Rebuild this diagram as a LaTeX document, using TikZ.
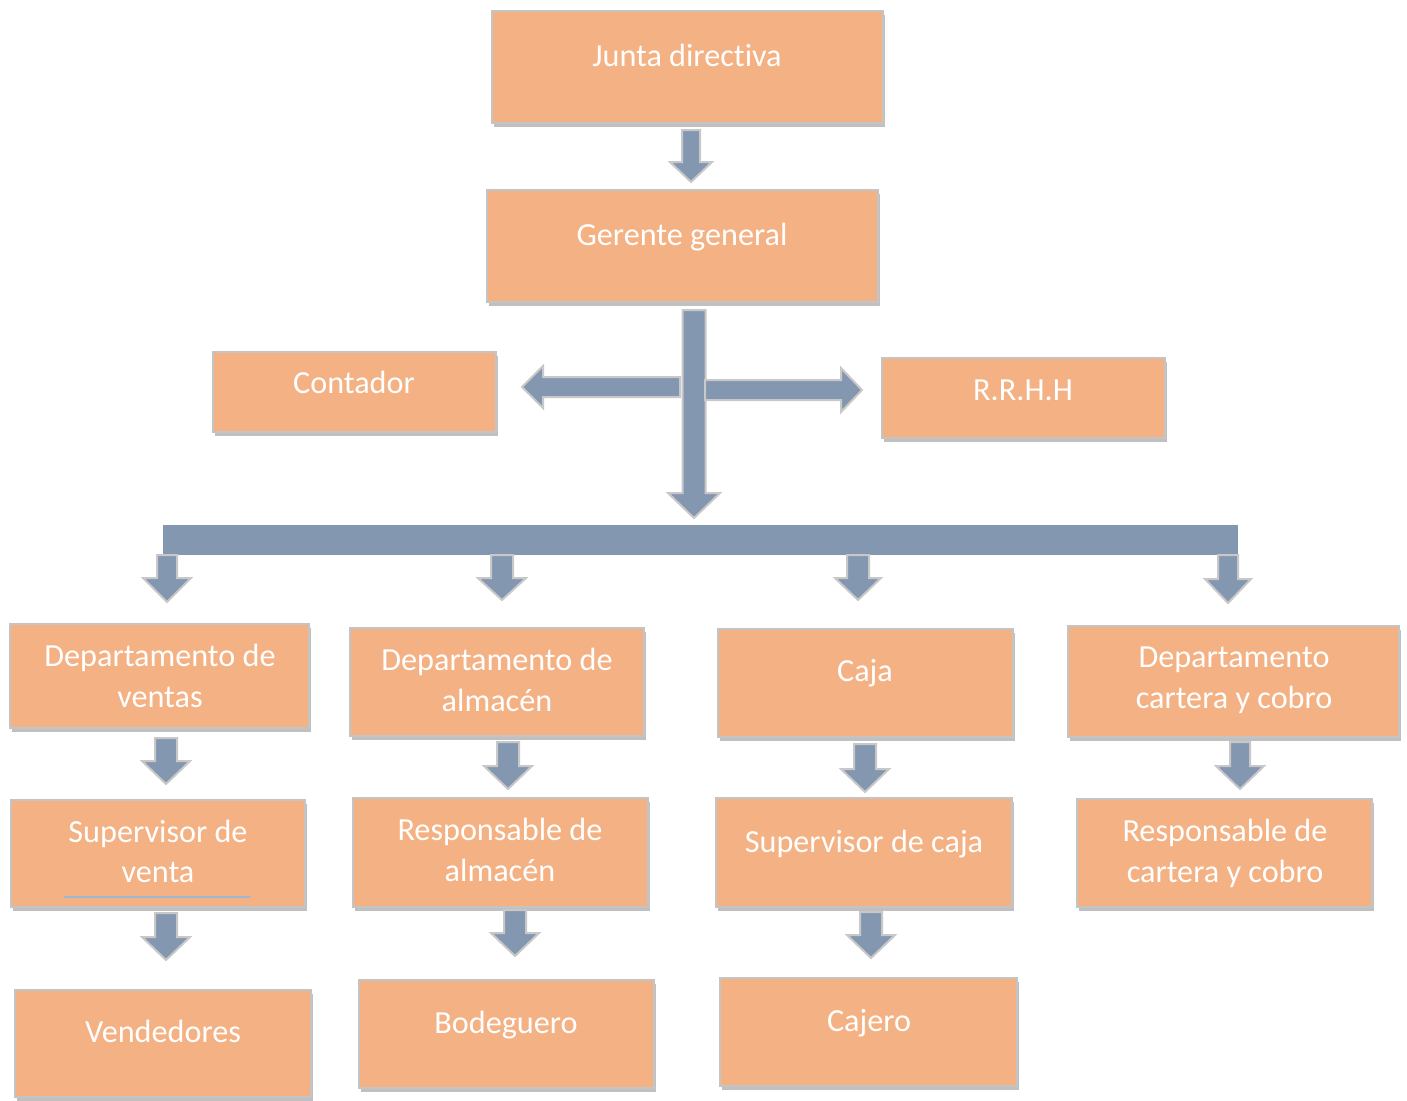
\documentclass[tikz,border=0pt]{standalone}
\usepackage{fontspec}
\setmainfont[Ligatures=NoCommon]{Carlito}
\usetikzlibrary{shadows,fit}
\definecolor{boxfill}{HTML}{F4B183}
\definecolor{boxline}{HTML}{C4C4C4}
\definecolor{arrfill}{HTML}{8497B0}
\definecolor{arrline}{HTML}{C8C8C8}
\definecolor{uline}{HTML}{9BB7D4}
\tikzset{
  orgbox/.style={draw=boxline, line width=1pt, fill=boxfill, inner sep=0pt,
    drop shadow={shadow xshift=1pt, shadow yshift=-2pt, fill=black!55, opacity=0.45}},
  lbl/.style={text=white, inner sep=0pt, anchor=base, font=\fontsize{16.1}{20.5}\selectfont},
  barrow/.style={fill=arrfill, draw=arrline, line width=1pt, line join=miter},
  barfill/.style={fill=arrfill, draw=none}
}
% box: name, x1, y1, x2, y2
\newcommand\OrgBox[5]{\node[orgbox, fit={(#2,#3) (#4,#5)}] (#1) {};}
% down arrow: x, ytop, ytip, shaft half, head half, head length
\newcommand\DArr[6]{\draw[barrow] (#1-#4,#2) -- (#1+#4,#2) -- (#1+#4,#3-#6) -- (#1+#5,#3-#6) -- (#1,#3) -- (#1-#5,#3-#6) -- (#1-#4,#3-#6) -- cycle;}
\begin{document}
\begin{tikzpicture}[x=0.5pt,y=-0.5pt]
\useasboundingbox (0,0) rectangle (1407,1100);

% boxes
\OrgBox{junta}{492}{11}{883}{123}
\OrgBox{gerente}{487}{190}{878}{302}
\OrgBox{contador}{213}{352}{496}{432}
\OrgBox{rrhh}{882}{358}{1165}{438}
\OrgBox{dventas}{10}{624}{309}{728}
\OrgBox{dalmacen}{350}{628}{644}{736}
\OrgBox{caja}{718}{629}{1013}{737}
\OrgBox{dcartera}{1068}{626}{1399}{737}
\OrgBox{supventa}{11}{800}{305}{907}
\OrgBox{respalm}{353}{798}{648}{907}
\OrgBox{supcaja}{716}{798}{1012}{907}
\OrgBox{respcart}{1077}{799}{1372}{907}
\OrgBox{vendedores}{15}{990}{311}{1097}
\OrgBox{bodeguero}{359}{980}{654}{1088}
\OrgBox{cajero}{720}{978}{1017}{1086}

% labels
\node[lbl] (tjunta) at (687,66) {Junta directiva};
\node[lbl] (tgerente) at (682,245) {Gerente general};
\node[lbl] (tcontador) at (354,393) {Contador};
\node[lbl] (trrhh) at (1023,400) {R.R.H.H};
\node[lbl] (tdventas1) at (160,666) {Departamento de};
\node[lbl] (tdventas2) at (160,707) {ventas};
\node[lbl] (tdalm1) at (497,670) {Departamento de};
\node[lbl] (tdalm2) at (497,711) {almacén};
\node[lbl] (tcaja) at (865,681) {Caja};
\node[lbl] (tdcart1) at (1234,667) {Departamento};
\node[lbl] (tdcart2) at (1234,708) {cartera y cobro};
\node[lbl] (tsupv1) at (158,842) {Supervisor de};
\node[lbl] (tsupv2) at (158,882) {venta};
\node[lbl] (tresa1) at (500,840) {Responsable de};
\node[lbl] (tresa2) at (500,881) {almacén};
\node[lbl] (tsupc) at (864,852) {Supervisor de caja};
\node[lbl] (tresc1) at (1225,841) {Responsable de};
\node[lbl] (tresc2) at (1225,882) {cartera y cobro};
\node[lbl] (tvend) at (163,1042) {Vendedores};
\node[lbl] (tbod) at (506,1033) {Bodeguero};
\node[lbl] (tcajero) at (869,1031) {Cajero};

% underline in supervisor de venta
\coordinate (ulA) at (64,897);
\coordinate (ulB) at (250,897);
\draw[draw=uline, line width=0.6pt] (ulA) -- (ulB);

% top arrow
\DArr{691}{130}{182}{9}{21}{20}

% main vertical arrow
\DArr{694}{310}{518}{11.5}{26}{25}

% left arrow to contador
\draw[barrow] (680,377) -- (680,397) -- (543,397) -- (543,408) -- (522,387) -- (543,366) -- (543,377) -- cycle;
% right arrow to R.R.H.H
\draw[barrow] (705,380) -- (705,400) -- (841,400) -- (841,412) -- (862,390) -- (841,368) -- (841,380) -- cycle;

% horizontal bar
\fill[barfill] (163,525) rectangle (1238,555);

% bar down arrows
\DArr{167}{555}{602}{10}{24}{24}
\DArr{502}{555}{600}{11}{24}{22}
\DArr{858}{555}{600}{11}{23}{22}
\DArr{1228}{555}{603}{10}{23}{24}

% level arrows
\DArr{166}{738}{784}{11}{24}{23}
\DArr{508}{742}{789}{11}{24}{23}
\DArr{865}{744}{792}{11}{24}{23}
\DArr{1240}{742}{789}{10}{24}{23}
\DArr{166}{913}{960}{11}{24}{23}
\DArr{515}{910}{956}{11}{24}{23}
\DArr{871}{912}{958}{11}{24}{23}
\end{tikzpicture}
\end{document}
